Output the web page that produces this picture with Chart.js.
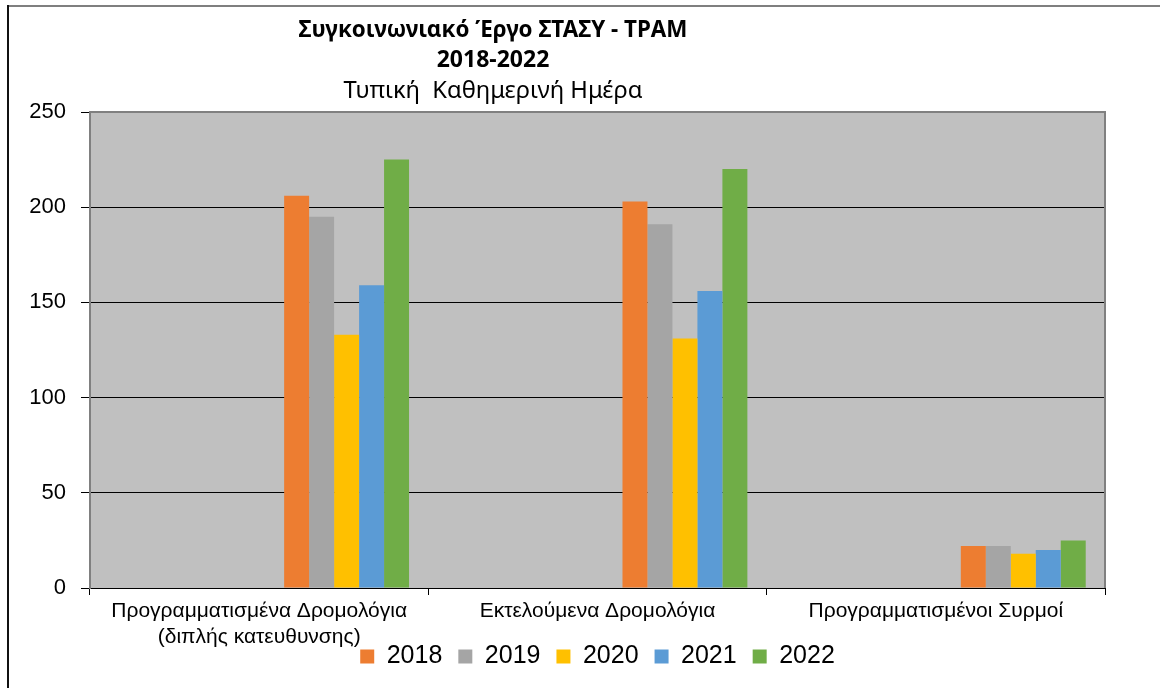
<!DOCTYPE html>
<html>
<head>
<meta charset="utf-8">
<script src="https://cdn.jsdelivr.net/npm/chart.js@4/dist/chart.umd.min.js"></script>
<style>
  html, body { margin: 0; padding: 0; background: #fff; }
  #wrap { position: relative; width: 1160px; height: 688px; }
</style>
</head>
<body>
<div id="wrap"><canvas id="myChart" width="1160" height="688"></canvas></div>
<script>
var categories = [
  ["Προγραμματισμένα Δρομολόγια", "(διπλής κατευθυνσης)"],
  "Εκτελούμενα Δρομολόγια",
  "Προγραμματισμένοι Συρμοί"
];
var years = ["2018", "2019", "2020", "2021", "2022"];
var values2018 = [206, 203, 22];
var values2019 = [195, 191, 22];
var values2020 = [133, 131, 18];
var values2021 = [159, 156, 20];
var values2022 = [225, 220, 25];
var yTicks = [0, 50, 100, 150, 200, 250];

var colors = ["#ED7D31", "#A5A5A5", "#FFC000", "#5B9BD5", "#70AD47"];
var seriesValues = [values2018, values2019, values2020, values2021, values2022];

// empty series in front, the bars sit on the right side of each group (like the excel original)
var spacerCount = 7;
var datasets = [];
for (var i = 0; i < spacerCount; i++) {
  datasets.push({ label: "", data: [null, null, null], backgroundColor: "transparent" });
}
years.forEach(function (y, i) {
  datasets.push({ label: y, data: seriesValues[i], backgroundColor: colors[i] });
});

var titleLines = [
  { text: "Συγκοινωνιακό Έργο ΣΤΑΣΥ - ΤΡΑΜ", font: "bold 23px 'Noto Sans'", y: 37, w: 389 },
  { text: "2018-2022", font: "bold 23px 'Noto Sans'", y: 67, w: 114 },
  { text: "Τυπική  Καθημερινή Ημέρα", font: "24px 'Noto Sans'", y: 98, w: 299 }
];

var framePlugin = {
  id: "frame",
  beforeDraw: function (chart) {
    var c = chart.ctx, a = chart.chartArea;
    c.save();
    // outer frame
    c.fillStyle = "#7f7f7f";
    c.fillRect(7, 5, 1160, 2);
    c.fillStyle = "#111";
    c.fillRect(7, 5, 2, 688);
    // plot background
    c.fillStyle = "#C0C0C0";
    c.fillRect(a.left, a.top, a.right - a.left, a.bottom - a.top);
    c.restore();
  },
  afterDatasetsDraw: function (chart) {
    var c = chart.ctx, a = chart.chartArea;
    c.save();
    c.strokeStyle = "#808080";
    c.lineWidth = 2;
    c.beginPath();
    c.moveTo(a.left, a.top);
    c.lineTo(a.right, a.top);
    c.lineTo(a.right, a.bottom);
    c.stroke();
    c.restore();
  },
  afterDraw: function (chart) {
    var c = chart.ctx;
    c.save();
    c.fillStyle = "#000";
    c.textAlign = "center";
    c.textBaseline = "alphabetic";
    titleLines.forEach(function (t) {
      c.font = t.font;
      c.fillText(t.text, 493, t.y, t.w);
    });
    c.restore();
  }
};

var ctx = document.getElementById("myChart");
var myChart = new Chart(ctx, {
  type: "bar",
  data: { labels: categories, datasets: datasets },
  plugins: [framePlugin],
  options: {
    responsive: false,
    animation: false,
    layout: { padding: { left: 0, right: 55, top: 112, bottom: 9 } },
    datasets: { bar: { categoryPercentage: 0.886, barPercentage: 1.0 } },
    plugins: {
      title: { display: false },
      tooltip: { enabled: false },
      legend: {
        position: "bottom",
        fullSize: false,
        labels: {
          filter: function (item) { return item.text !== ""; },
          color: "#000",
          font: { family: "'Liberation Sans', Arial", size: 25 },
          boxWidth: 14,
          boxHeight: 14,
          padding: 16
        }
      }
    },
    scales: {
      x: {
        grid: { drawOnChartArea: false, drawTicks: true, tickLength: 7, color: "#000" },
        border: { color: "#000", width: 1 },
        ticks: {
          color: "#000",
          maxRotation: 0,
          autoSkip: false,
          padding: 4,
          font: { family: "'Liberation Sans', Arial", size: 21, lineHeight: 1.2 }
        },
        afterFit: function (scale) {
          scale.height = 40;
          // let the second label line run under the legend like in the original
          scale._computeLabelArea = function () { return undefined; };
        }
      },
      y: {
        min: 0,
        max: 250,
        afterBuildTicks: function (scale) {
          scale.ticks = yTicks.map(function (v) { return { value: v }; });
        },
        grid: { color: "#000", tickLength: 9, drawTicks: true },
        border: { color: "#808080", width: 2 },
        ticks: {
          color: "#000",
          padding: 15,
          font: { family: "'Liberation Sans', Arial", size: 22 }
        },
        afterFit: function (scale) { scale.width = 90; }
      }
    }
  }
});
</script>
</body>
</html>
